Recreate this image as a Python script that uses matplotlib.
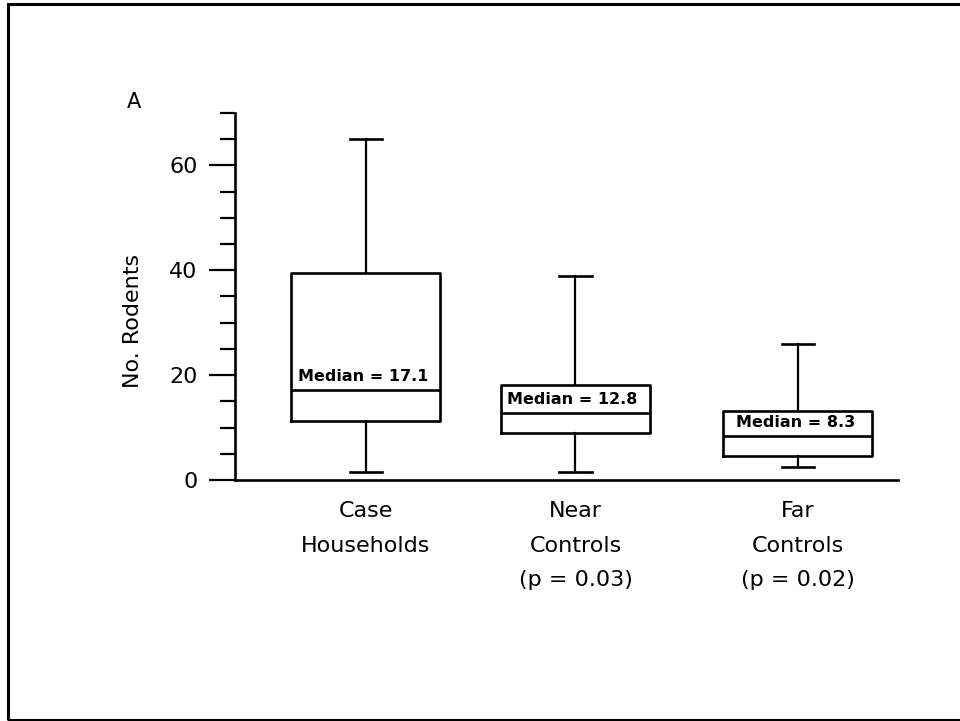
import matplotlib

matplotlib.use("Agg")
import matplotlib.pyplot as plt
from matplotlib.patches import Rectangle
from matplotlib.ticker import MultipleLocator

# summary statistics for each household group
groups = ["Case\nHouseholds", "Near\nControls\n(p = 0.03)", "Far\nControls\n(p = 0.02)"]
whisker_low = [1.5, 1.5, 2.5]
quartile_1 = [11.2, 8.9, 4.5]
medians = [17.1, 12.8, 8.3]
quartile_3 = [39.5, 18.2, 13.1]
whisker_high = [65.0, 38.9, 26.0]

plt.rcParams["font.family"] = ["DejaVu Sans"]

fig = plt.figure(figsize=(9.6, 7.21), dpi=100)
ax = fig.add_axes([0.2448, 0.3343, 0.6906, 0.509])

stats = [
    {"whislo": lo, "q1": a, "med": m, "q3": b, "whishi": hi, "fliers": []}
    for lo, a, m, b, hi in zip(whisker_low, quartile_1, medians, quartile_3, whisker_high)
]
positions = [1, 1.97, 3]
ax.bxp(
    stats,
    positions=positions,
    widths=0.69,
    capwidths=0.15,
    showfliers=False,
    boxprops=dict(color="black", linewidth=1.9),
    medianprops=dict(color="black", linewidth=1.9),
    whiskerprops=dict(color="black", linewidth=1.6),
    capprops=dict(color="black", linewidth=1.9),
)

for x, m in zip(positions, medians):
    ax.annotate(
        f"Median = {m}",
        (x, m),
        xytext=(-2, 4.5),
        textcoords="offset points",
        ha="center",
        va="bottom",
        fontsize=11.5,
        fontweight="bold",
    )

ax.set_xlim(0.394, 3.463)
ax.set_ylim(0, 70)
ax.set_xticks(positions)
ax.set_xticklabels(groups, fontsize=16, linespacing=1.92)
ax.tick_params(axis="x", length=0, pad=15)

ax.yaxis.set_major_locator(MultipleLocator(20))
ax.yaxis.set_minor_locator(MultipleLocator(5))
ax.tick_params(axis="y", which="major", length=19, width=1.6, labelsize=16, pad=8)
ax.tick_params(axis="y", which="minor", length=11, width=1.6)
ax.set_ylabel("No. Rodents", fontsize=16)
ax.yaxis.set_label_coords(-0.139, 0.434)

for side in ("top", "right"):
    ax.spines[side].set_visible(False)
for side in ("left", "bottom"):
    ax.spines[side].set_linewidth(1.9)

fig.text(134 / 960, 1 - 102 / 721, "A", fontsize=15, ha="center", va="center")

# frame around the panel
fig.add_artist(
    Rectangle(
        (8 / 960, 1.5 / 721),
        1.1,
        (716 / 721),
        transform=fig.transFigure,
        fill=False,
        edgecolor="black",
        linewidth=2.2,
        clip_on=False,
    )
)

fig.savefig("out.png", dpi=100)
